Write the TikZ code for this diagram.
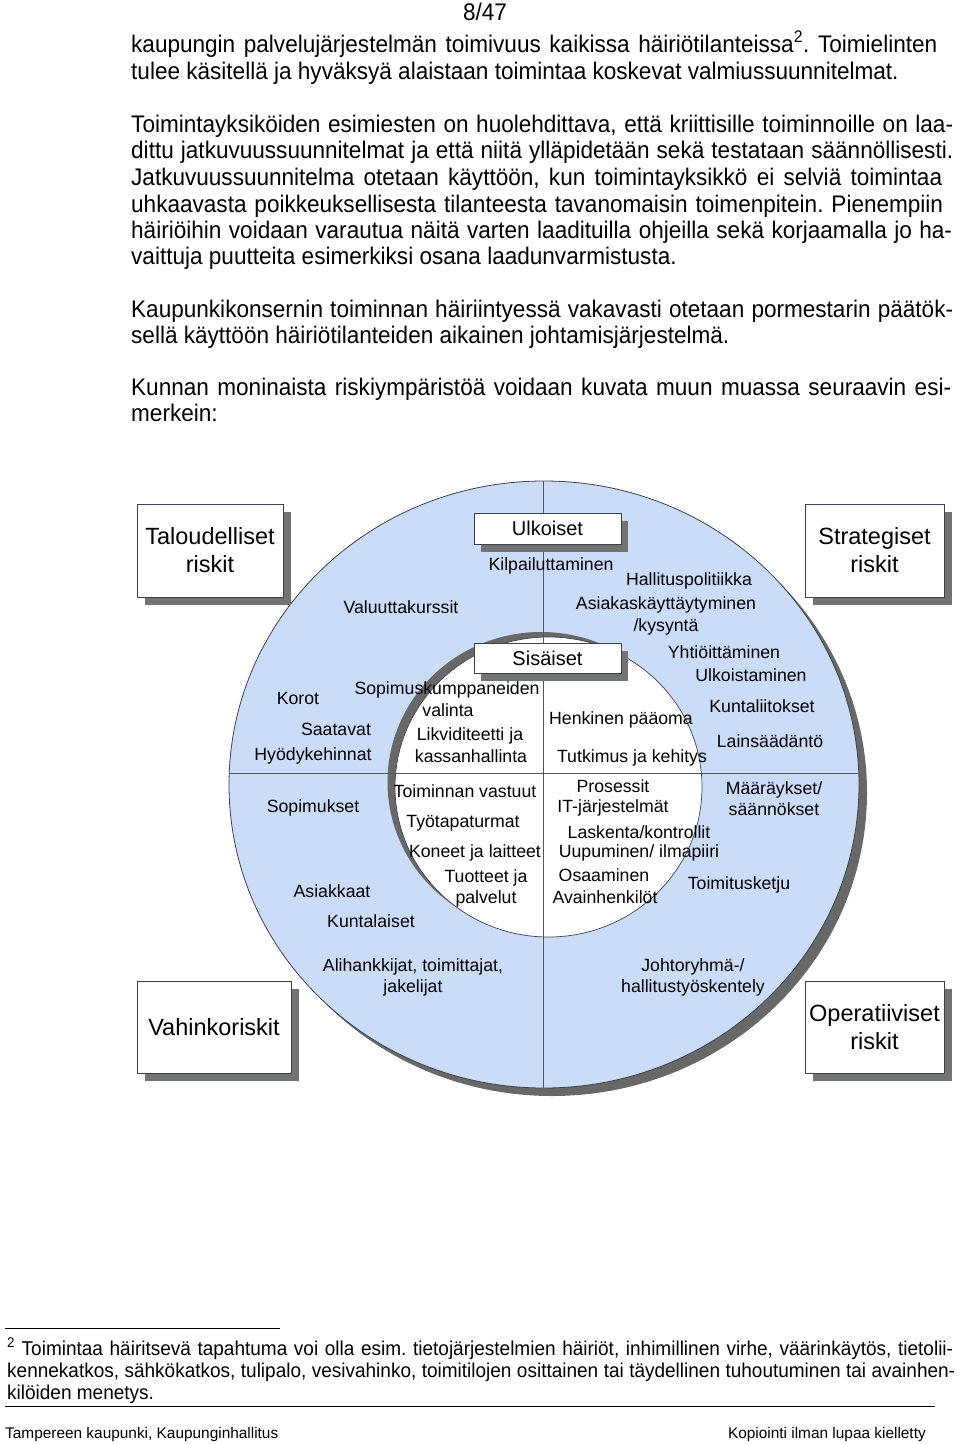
\documentclass[tikz,border=0pt]{standalone}
\usepackage{fontspec}
\setmainfont{Liberation Sans}
\newfontfamily\bodyfont[FakeStretch=0.94]{Liberation Sans}
\newfontfamily\notefont[FakeStretch=0.95]{Liberation Sans}
\usetikzlibrary{shadows}
\definecolor{ringblue}{HTML}{CADCF8}
\definecolor{shade}{HTML}{737373}
\definecolor{ringshade}{HTML}{686868}
\definecolor{edgec}{HTML}{3C4250}
\definecolor{linec}{HTML}{505868}
\begin{document}
\frenchspacing
\begin{tikzpicture}[x=1pt,y=-1pt,
  body/.style={anchor=base west, inner sep=0pt, font=\bodyfont\fontsize{24}{26.5}\selectfont},
  foot/.style={anchor=base west, inner sep=0pt, font=\notefont\fontsize{20}{22}\selectfont},
  small/.style={inner sep=0pt, font=\fontsize{15.4}{18}\selectfont},
  lbl/.style={inner sep=0pt, text height=13pt, text depth=4pt, font=\fontsize{17.7}{21}\selectfont},
  cornerbox/.style={draw=edgec, line width=0.8pt, fill=white, align=center, inner sep=0pt,
    font=\fontsize{23.5}{28}\selectfont,
    drop shadow={shadow xshift=8pt, shadow yshift=-8pt, fill=shade, opacity=1}},
  tagbox/.style={draw=edgec, line width=0.8pt, fill=white, inner sep=0pt,
    font=\fontsize{20}{24}\selectfont, minimum width=147pt,
    drop shadow={shadow xshift=7pt, shadow yshift=-8pt, fill=shade, opacity=1}},
  divline/.style={draw=linec, line width=0.9pt},
  rule/.style={draw=black, line width=0.8pt}
]
\useasboundingbox (0,0) rectangle (960,1444);

% ---------- header and body text ----------
\node[anchor=base, inner sep=0pt, font=\bodyfont\fontsize{24}{26.5}\selectfont] (page) at (485,20) {8/47};
\node[body] (b1) at (131,52) {\makebox[806pt][s]{kaupungin palvelujärjestelmän toimivuus kaikissa häiriötilanteissa\textsuperscript{2}. Toimielinten}};
\node[body] (b2) at (131,79) {tulee käsitellä ja hyväksyä alaistaan toimintaa koskevat valmiussuunnitelmat.};
\node[body] (b3) at (131,132) {\makebox[822pt][s]{Toimintayksiköiden esimiesten on huolehdittava, että kriittisille toiminnoille on laa-}};
\node[body] (b4) at (131,158) {\makebox[822pt][s]{dittu jatkuvuussuunnitelmat ja että niitä ylläpidetään sekä testataan säännöllisesti.}};
\node[body] (b5) at (131,185) {\makebox[811pt][s]{Jatkuvuussuunnitelma otetaan käyttöön, kun toimintayksikkö ei selviä toimintaa}};
\node[body] (b6) at (131,212) {\makebox[812pt][s]{uhkaavasta poikkeuksellisesta tilanteesta tavanomaisin toimenpitein. Pienempiin}};
\node[body] (b7) at (131,238) {\makebox[821pt][s]{häiriöihin voidaan varautua näitä varten laadituilla ohjeilla sekä korjaamalla jo ha-}};
\node[body] (b8) at (131,264) {vaittuja puutteita esimerkiksi osana laadunvarmistusta.};
\node[body] (b9) at (131,317) {\makebox[822pt][s]{Kaupunkikonsernin toiminnan häiriintyessä vakavasti otetaan pormestarin päätök-}};
\node[body] (b10) at (131,343) {sellä käyttöön häiriötilanteiden aikainen johtamisjärjestelmä.};
\node[body] (b11) at (131,395) {\makebox[820pt][s]{Kunnan moninaista riskiympäristöä voidaan kuvata muun muassa seuraavin esi-}};
\node[body] (b12) at (131,421) {merkein:};

% ---------- rings ----------
\fill[ringshade] (552,792.5) ellipse [x radius=315, y radius=303.5];
\draw[draw=edgec, line width=0.8pt, fill=ringblue] (544,784.5) ellipse [x radius=315, y radius=303.5];
\fill[ringshade] (541,782) ellipse [x radius=153.5, y radius=150];
\draw[draw=edgec, line width=0.7pt, fill=white] (548.5,787) ellipse [x radius=153.5, y radius=150];

\coordinate (vtop) at (543,481);
\coordinate (vbot) at (543,1088);
\coordinate (hleft) at (229.2,773);
\coordinate (hright) at (858.8,773);
\draw[divline] (vtop) -- (vbot);
\draw[divline] (hleft) -- (hright);

% ---------- boxes ----------
\node[cornerbox, minimum width=146pt, minimum height=93pt] (tal) at (210,550.5) {Taloudelliset\\riskit};
\node[cornerbox, minimum width=139pt, minimum height=93pt] (str) at (874.5,550.5) {Strategiset\\riskit};
\node[cornerbox, minimum width=154pt, minimum height=92pt] (vah) at (214,1027) {Vahinkoriskit};
\node[cornerbox, minimum width=139pt, minimum height=92pt] (ope) at (874.5,1027) {Operatiiviset\\riskit};
\node[tagbox, minimum height=31pt] (ulk) at (547.5,528.5) {Ulkoiset};
\node[tagbox, minimum height=30pt] (sis) at (547.5,658) {Sisäiset};

% ---------- labels ----------
\node[lbl] (t1) at (551,566) {Kilpailuttaminen};
\node[lbl] (t2) at (689,581) {Hallituspolitiikka};
\node[lbl] (t3a) at (666,605) {Asiakaskäyttäytyminen};
\node[lbl] (t3b) at (666,627) {/kysyntä};
\node[lbl] (t4) at (401,609) {Valuuttakurssit};
\node[lbl] (t5) at (724,654) {Yhtiöittäminen};
\node[lbl] (t6) at (751,677) {Ulkoistaminen};
\node[lbl] (t7a) at (447,690) {Sopimuskumppaneiden};
\node[lbl] (t7b) at (448,712) {valinta};
\node[lbl] (t8) at (298,700) {Korot};
\node[lbl] (t9) at (621,720) {Henkinen pääoma};
\node[lbl] (t10) at (762,708) {Kuntaliitokset};
\node[lbl] (t11) at (336,731) {Saatavat};
\node[lbl] (t12a) at (470,736) {Likviditeetti ja};
\node[lbl] (t12b) at (471,758) {kassanhallinta};
\node[lbl] (t13) at (313,756) {Hyödykehinnat};
\node[lbl] (t14) at (632,758) {Tutkimus ja kehitys};
\node[lbl] (t15) at (770,743) {Lainsäädäntö};
\node[lbl] (t16a) at (613,788) {Prosessit};
\node[lbl] (t16b) at (613,808) {IT-järjestelmät};
\node[lbl] (t17) at (465,793) {Toiminnan vastuut};
\node[lbl] (t18a) at (774,790) {Määräykset/};
\node[lbl] (t18b) at (774,811) {säännökset};
\node[lbl] (t19) at (313,808) {Sopimukset};
\node[lbl] (t20) at (463,823) {Työtapaturmat};
\node[lbl] (t21) at (639,834) {Laskenta/kontrollit};
\node[lbl] (t22) at (475,853) {Koneet ja laitteet};
\node[lbl] (t23) at (639,853) {Uupuminen/ ilmapiiri};
\node[lbl] (t24a) at (486,878) {Tuotteet ja};
\node[lbl] (t24b) at (486,899) {palvelut};
\node[lbl] (t25) at (604,877) {Osaaminen};
\node[lbl] (t26) at (605,899) {Avainhenkilöt};
\node[lbl] (t27) at (739,885) {Toimitusketju};
\node[lbl] (t28) at (332,893) {Asiakkaat};
\node[lbl] (t29) at (371,923) {Kuntalaiset};
\node[lbl] (t30a) at (413,967) {Alihankkijat, toimittajat,};
\node[lbl] (t30b) at (413,988) {jakelijat};
\node[lbl] (t31a) at (693,967) {Johtoryhmä-/};
\node[lbl] (t31b) at (693,988) {hallitustyöskentely};

% ---------- footnote and footer ----------
\coordinate (fr1) at (5,1328);
\coordinate (fr2) at (280,1328);
\draw[rule] (fr1) -- (fr2);
\node[foot] (f1) at (7,1355) {\makebox[946pt][s]{\textsuperscript{2} Toimintaa häiritsevä tapahtuma voi olla esim. tietojärjestelmien häiriöt, inhimillinen virhe, väärinkäytös, tietolii-}};
\node[foot] (f2) at (7,1377) {\makebox[948pt][s]{kennekatkos, sähkökatkos, tulipalo, vesivahinko, toimitilojen osittainen tai täydellinen tuhoutuminen tai avainhen-}};
\node[foot] (f3) at (7,1399) {kilöiden menetys.};
\coordinate (br1) at (5,1406);
\coordinate (br2) at (935,1406);
\draw[rule] (br1) -- (br2);
\node[small, anchor=base west] (ft1) at (5,1438) {Tampereen kaupunki, Kaupunginhallitus};
\node[small, anchor=base east] (ft2) at (926,1438) {Kopiointi ilman lupaa kielletty};
\end{tikzpicture}
\end{document}
